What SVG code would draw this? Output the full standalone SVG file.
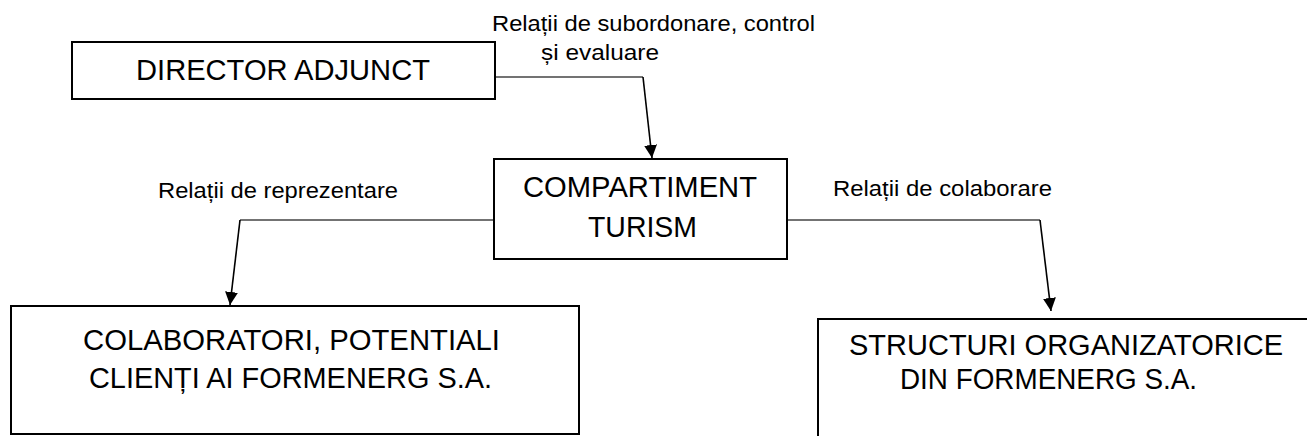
<svg xmlns="http://www.w3.org/2000/svg" width="1307" height="436" viewBox="0 0 1307 436">
<style>
.box{fill:#fff;stroke:#000;stroke-width:2}
.nt{font-family:"Liberation Sans",Arial,sans-serif;font-size:29px;fill:#000}
.lt{font-family:"Liberation Sans",Arial,sans-serif;font-size:21.5px;fill:#000}
.h{fill:none;stroke:#444;stroke-width:1.3}
.d{fill:none;stroke:#000;stroke-width:1.6}
</style>
<defs>
<marker id="arr" markerUnits="userSpaceOnUse" markerWidth="14" markerHeight="14" refX="13" refY="6.5" orient="auto">
<path d="M0,0 L13,6.5 L0,13 z" fill="#000"/>
</marker>
</defs>
<rect width="1307" height="436" fill="#fff"/>
<g id="connectors">
<path class="h" d="M495,77 H643"/>
<path class="d" d="M643,77 L652,158" marker-end="url(#arr)"/>
<path class="h" d="M494,220 H240"/>
<path class="d" d="M240,220 L230,305" marker-end="url(#arr)"/>
<path class="h" d="M787,220 H1040"/>
<path class="d" d="M1040,220 L1051,311" marker-end="url(#arr)"/>
</g>
<g id="labels">
<text class="lt" x="492" y="31" textLength="323" lengthAdjust="spacingAndGlyphs">Relații de subordonare, control</text>
<text class="lt" x="541" y="60" textLength="118" lengthAdjust="spacingAndGlyphs">și evaluare</text>
<text class="lt" x="158" y="198" textLength="240" lengthAdjust="spacingAndGlyphs">Relații de reprezentare</text>
<text class="lt" x="833" y="196" textLength="219" lengthAdjust="spacingAndGlyphs">Relații de colaborare</text>
</g>
<g id="director">
<rect class="box" x="72" y="42" width="423" height="57"/>
<text class="nt" x="136" y="80" textLength="294" lengthAdjust="spacingAndGlyphs">DIRECTOR ADJUNCT</text>
</g>
<g id="compartiment">
<rect class="box" x="494" y="159" width="293" height="100"/>
<text class="nt" x="523" y="197" textLength="234" lengthAdjust="spacingAndGlyphs">COMPARTIMENT</text>
<text class="nt" x="588" y="237" textLength="109" lengthAdjust="spacingAndGlyphs">TURISM</text>
</g>
<g id="colaboratori">
<rect class="box" x="11" y="306" width="568" height="128"/>
<text class="nt" x="83" y="350" textLength="417" lengthAdjust="spacingAndGlyphs">COLABORATORI, POTENTIALI</text>
<text class="nt" x="89" y="388" textLength="403" lengthAdjust="spacingAndGlyphs">CLIENȚI AI FORMENERG S.A.</text>
</g>
<g id="structuri">
<rect class="box" x="818" y="319" width="500" height="130"/>
<text class="nt" x="849" y="355" textLength="434" lengthAdjust="spacingAndGlyphs">STRUCTURI ORGANIZATORICE</text>
<text class="nt" x="900" y="389" textLength="297" lengthAdjust="spacingAndGlyphs">DIN FORMENERG S.A.</text>
</g>
</svg>
